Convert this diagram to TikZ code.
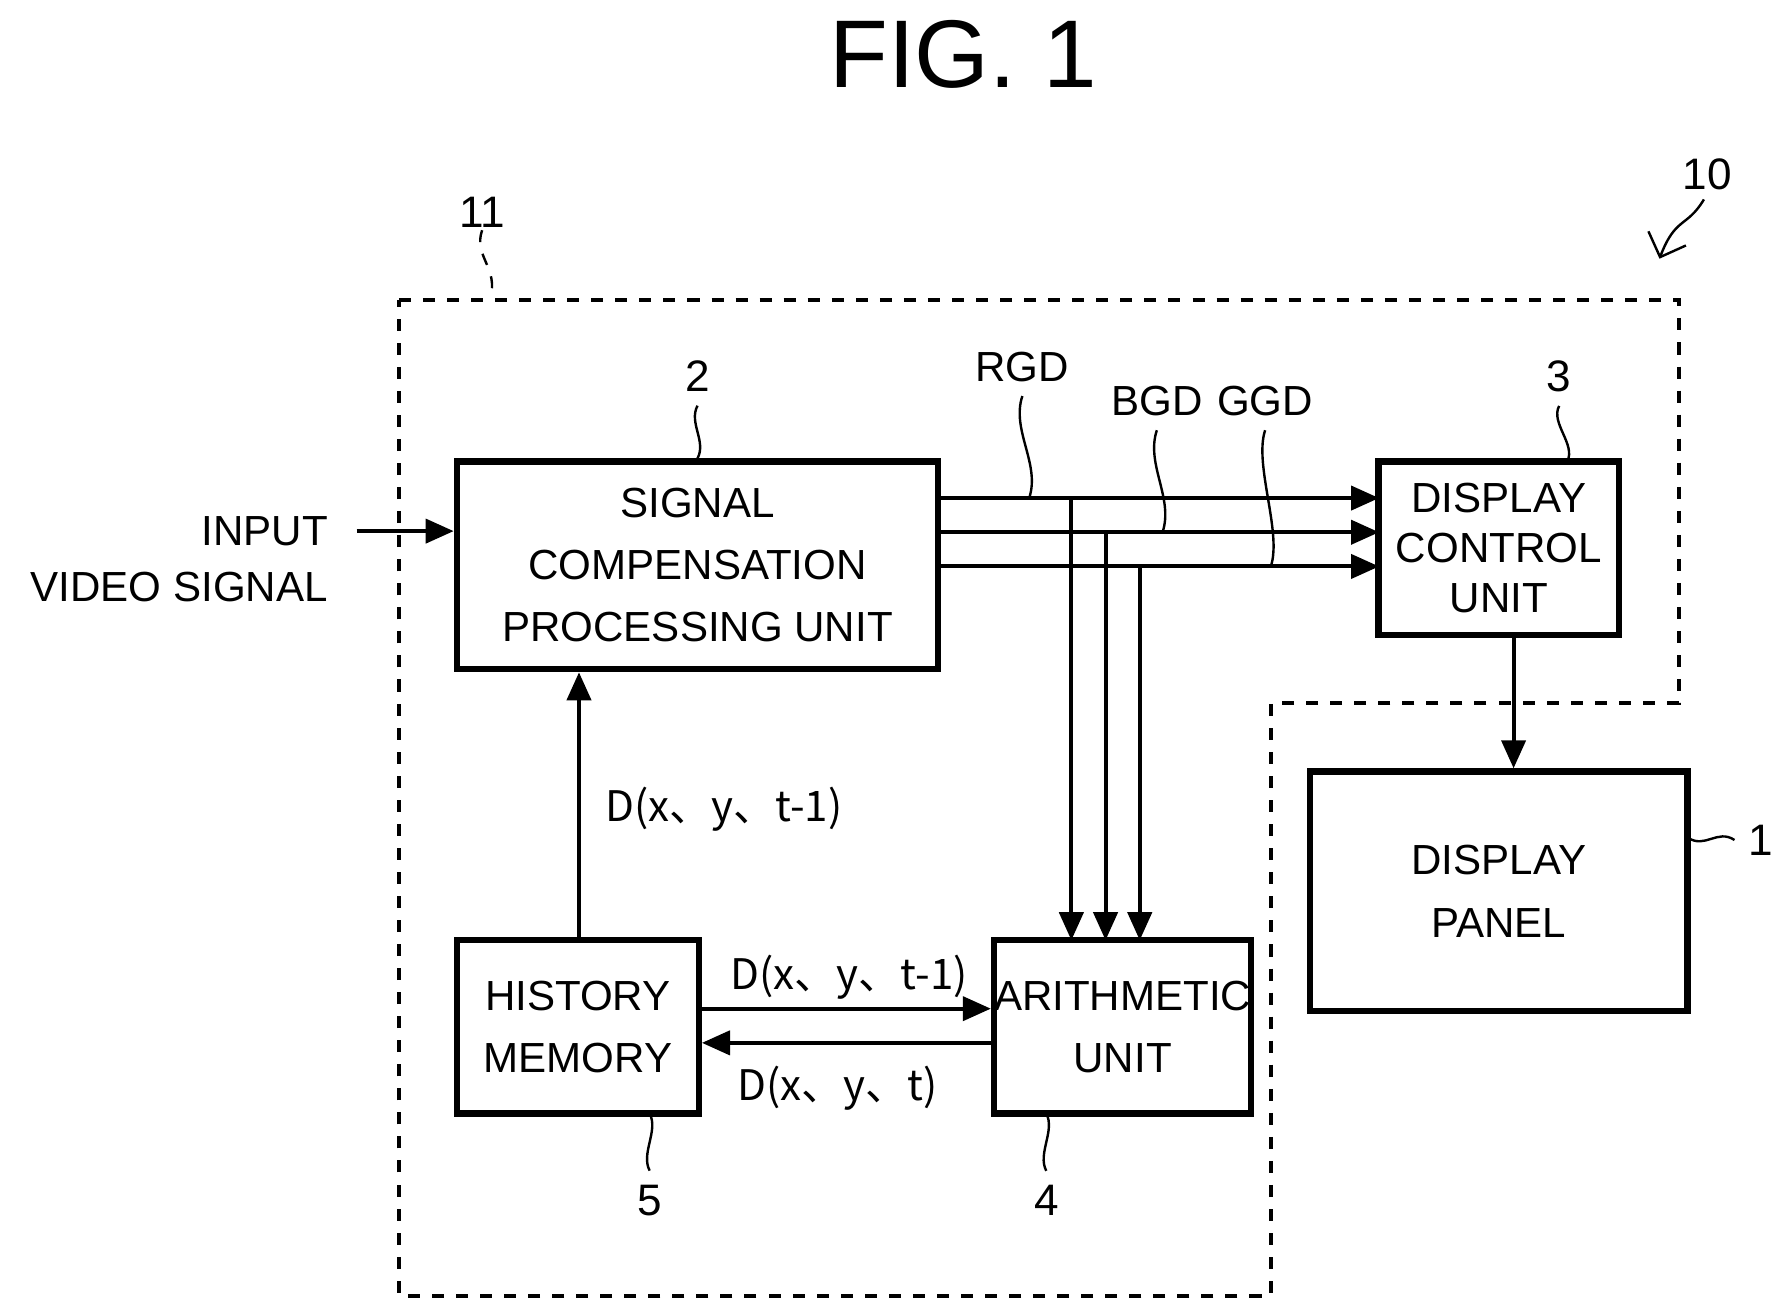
\documentclass[tikz,border=0pt]{standalone}
\usepackage{fontspec}
\setmainfont{Liberation Sans}
\newfontfamily\cjk{Noto Sans CJK JP}
\usetikzlibrary{arrows.meta}
\begin{document}
\begin{tikzpicture}[x=0.01cm,y=-0.01cm,
  blk/.style={draw,line width=1.6pt,align=center,inner sep=0pt,font=\fontsize{10.5}{12.5}\selectfont},
  sig/.style={line width=1pt,-{Triangle[length=7pt,width=6pt]}},
  lbl/.style={font=\fontsize{10.5}{12.5}\selectfont},
  num/.style={font=\fontsize{11}{13}\selectfont},
  dl/.style={font=\cjk\fontsize{10.5}{12.5}\selectfont},
  wav/.style={line width=0.6pt}
]
\useasboundingbox (0,0) rectangle (1560,1152);
\node[font=\fontsize{24}{28}\selectfont] (fig) at (845,48) {FIG. 1};
% device outline
\draw[dashed,line width=1pt] (350,263) -- (1473,263) -- (1473,617) -- (1115,617)
  -- (1115,1137) -- (350,1137) -- cycle;
\node[num] (n11) at (423,186) {11};
\draw[wav,dashed] (423,202) .. controls (415,225) and (438,235) .. (430,262);
\node[num] (n10) at (1498,153) {10};
\draw[wav,-{Straight Barb[length=5pt]}] (1495,175) .. controls (1480,200) and (1470,190) .. (1456,227);
% blocks
\node[blk,minimum width=4.22cm,minimum height=1.82cm] (scpu) at (612,496) {SIGNAL\\[3pt]COMPENSATION\\[3pt]PROCESSING UNIT};
\node[blk,minimum width=2.11cm,minimum height=1.52cm] (dcu) at (1315,481) {DISPLAY\\CONTROL\\UNIT};
\node[blk,minimum width=3.31cm,minimum height=2.10cm] (panel) at (1315,782) {DISPLAY\\[3pt]PANEL};
\node[blk,minimum width=2.12cm,minimum height=1.52cm] (hist) at (507,901) {HISTORY\\[3pt]MEMORY};
\node[blk,minimum width=2.11cm,minimum height=1.52cm] (arith) at (985,901) {ARITHMETIC\\[3pt]UNIT};
% reference numerals
\node[num] (n2) at (612,330) {2};
\draw[wav] (n2.south) .. controls +(-8,15) and +(8,-15) .. (scpu.north);
\node[num] (n3) at (1368,330) {3};
\draw[wav] (n3.south) .. controls +(-8,15) and +(8,-15) .. (1375,405);
\node[num] (n1) at (1545,737) {1};
\draw[wav] (n1.west) .. controls +(-15,-10) and +(15,10) .. (1481,735);
\node[num] (n5) at (570,1053) {5};
\draw[wav] (n5.north) .. controls +(-8,-15) and +(8,15) .. (570,977);
\node[num] (n4) at (918,1053) {4};
\draw[wav] (n4.north) .. controls +(-8,-15) and +(8,15) .. (918,977);
% input
\node[lbl,anchor=east] (in1) at (300,466) {INPUT};
\node[lbl,anchor=east] (in2) at (300,515) {VIDEO SIGNAL};
\coordinate (inp) at (313,466);
\draw[sig] (inp) -- (scpu.west |- inp);
% gradation data buses
\foreach \y/\x in {437/940,467/970,497/1000}{
  \draw[sig] (823,\y) -- (1210,\y);
  \draw[sig] (\x,\y) -- (\x,825);
}
\node[lbl] (rgd) at (897,322) {RGD};
\node[lbl] (bgd) at (1015,352) {BGD};
\node[lbl] (ggd) at (1110,352) {GGD};
\draw[wav] (rgd.south) .. controls +(-10,30) and +(10,-30) .. (903,437);
\draw[wav] (bgd.south) .. controls +(-10,30) and +(10,-30) .. (1020,467);
\draw[wav] (ggd.south) .. controls +(-10,30) and +(10,-30) .. (1115,497);
% other connections
\draw[sig] (dcu.south -| 1328,0) -- (panel.north -| 1328,0);
\draw[sig] (hist.north -| 508,0) -- (scpu.south -| 508,0);
\node[dl] (d1) at (635,710) {D(x、y、t-1)};
\draw[sig] (hist.east |- 0,885) -- (arith.west |- 0,885);
\draw[sig] (arith.west |- 0,915) -- (hist.east |- 0,915);
\node[dl] (d2) at (745,857) {D(x、y、t-1)};
\node[dl] (d3) at (735,955) {D(x、y、t)};
\end{tikzpicture}
\end{document}
